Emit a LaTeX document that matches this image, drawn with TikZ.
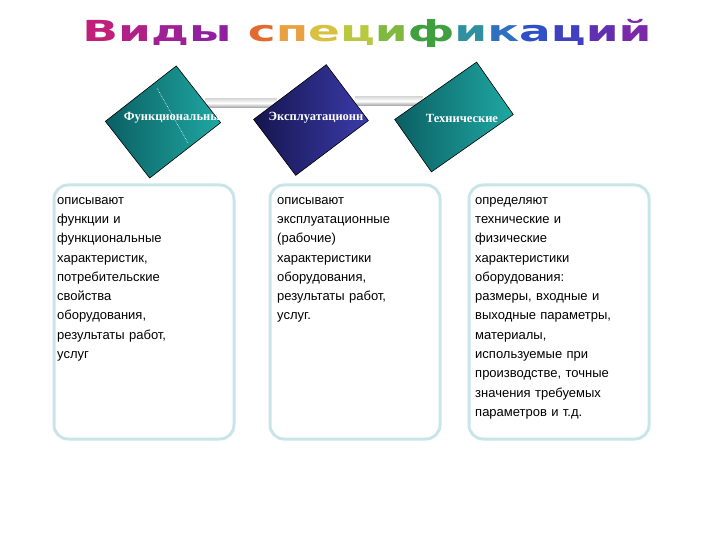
\documentclass[tikz,border=0pt]{standalone}
\usepackage{fontspec}
\setmainfont{Liberation Sans}
\newfontfamily\serifx{Liberation Serif}
\newfontfamily\titlef{DejaVu Sans}
\usetikzlibrary{shadings}
\definecolor{tealA}{HTML}{0B5F63}
\definecolor{tealB}{HTML}{1FA8A2}
\definecolor{blueA}{HTML}{15154F}
\definecolor{blueB}{HTML}{3B3BAA}
\definecolor{boxline}{HTML}{C9E5EA}
\tikzset{
  card/.style={draw=black, line width=0.6pt, minimum width=#1},
  lbl/.style={text=white, font=\serifx\bfseries\fontsize{12.5}{13}\selectfont},
  descbox/.style={draw=boxline, line width=3pt, rounded corners=14pt, minimum width=180pt, minimum height=254pt},
  desc/.style={anchor=north west, align=left, text width=170pt, font=\fontsize{13}{19.3}\selectfont, inner sep=0pt},
  bar/.style={top color=gray!30, bottom color=gray!70, middle color=white, draw=none}
}
\begin{document}
\begin{tikzpicture}[x=1pt,y=-1pt]
\useasboundingbox (0,0) rectangle (720,540);
% title
\node (title) at (367,33) {\titlef\bfseries\fontsize{29}{29}\selectfont\scalebox{1.62}[1]{%
\textcolor[HTML]{C0207A}{В}\textcolor[HTML]{B02088}{и}\textcolor[HTML]{A02095}{д}\textcolor[HTML]{9020A0}{ы}\ %
\textcolor[HTML]{E06A30}{с}\textcolor[HTML]{E8A040}{п}\textcolor[HTML]{D8C040}{е}\textcolor[HTML]{B8C840}{ц}\textcolor[HTML]{80B840}{и}\textcolor[HTML]{40A040}{ф}\textcolor[HTML]{3090A0}{и}\textcolor[HTML]{3070C0}{к}\textcolor[HTML]{3050C8}{а}\textcolor[HTML]{4040C0}{ц}\textcolor[HTML]{6030B0}{и}\textcolor[HTML]{7A2AA8}{й}}};
% bars
\node[bar, minimum width=72pt, minimum height=9pt, inner sep=0pt] (bar1) at (241,103) {};
\node[bar, minimum width=68pt, minimum height=9pt, inner sep=0pt] (bar2) at (389,101) {};
% cards
\node[card=90pt, minimum height=72pt, rotate=38, left color=tealA, right color=tealB] (c1) at (163,122) {};
\draw[white, densely dotted, line width=0.6pt] (157,88) -- (188,143);
\node[card=91pt, minimum height=70pt, rotate=37, left color=blueA, right color=blueB] (c2) at (311,120) {};
\node[card=100pt, minimum height=64pt, rotate=35, left color=tealA, right color=tealB] (c3) at (454,117) {};
\node[lbl] (l1) at (172,118) {Функциональны};
\node[lbl] (l2) at (316,118) {Эксплуатационн};
\node[lbl] (l3) at (462,118) {Технические};
% boxes
\node[descbox] (b1) at (144,312) {};
\node[descbox, minimum width=170pt] (b2) at (355,312) {};
\node[descbox] (b3) at (559,312) {};
\node[desc] (t1) at (57,197) {описывают\\функции и\\функциональные\\характеристик,\\потребительские\\свойства\\оборудования,\\результаты работ,\\услуг};
\node[desc] (t2) at (277,197) {описывают\\эксплуатационные\\(рабочие)\\характеристики\\оборудования,\\результаты работ,\\услуг.};
\node[desc] (t3) at (475,197) {определяют\\технические и\\физические\\характеристики\\оборудования:\\размеры, входные и\\выходные параметры,\\материалы,\\используемые при\\производстве, точные\\значения требуемых\\параметров и т.д.};
\end{tikzpicture}
\end{document}
